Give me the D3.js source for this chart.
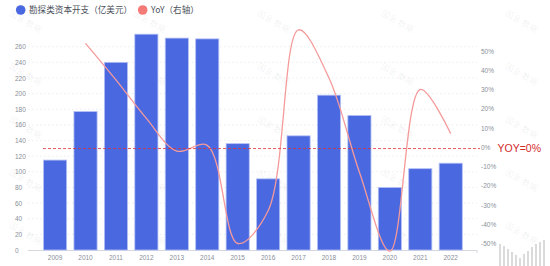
<!DOCTYPE html>
<html>
<head>
<meta charset="utf-8">
<script src="https://d3js.org/d3.v7.min.js"></script>
<style>
  body { margin: 0; background: #fff; }
  svg { display: block; font-family: "Noto Sans CJK SC", "Noto Sans", sans-serif; }
  .tick text { fill: #8a8f99; font-size: 6.5px; }
</style>
</head>
<body>
<svg width="550" height="266"></svg>
<script>
// data
const years = ['2009','2010','2011','2012','2013','2014','2015','2016','2017','2018','2019','2020','2021','2022'];
const capex = [115, 177, 240, 276, 271, 270, 136, 91, 146, 198, 172, 80, 104, 111];
const yoy = [null, 54, 35, 15, -2, 1, -50, -33, 61, 36, -13, -54, 30, 7];
const leftTicks = [0, 20, 40, 60, 80, 100, 120, 140, 160, 180, 200, 220, 240, 260];
const rightTicks = [-50, -40, -30, -20, -10, 0, 10, 20, 30, 40, 50];
// little grey bars of the logo in the corner
const logoBars = [22, 20, 17, 14, 11, 8, 12, 15, 19, 22, 24, 26];

const svg = d3.select('svg');

// watermark
const wm = svg.append('g').attr('fill', '#000').attr('fill-opacity', 0.07)
    .attr('font-size', 8.5);
for (let cx = 24; cx < 540; cx += 124) {
    for (let cy = 24; cy < 250; cy += 53) {
        wm.append('text')
            .attr('transform', `translate(${cx},${cy}) rotate(30)`)
            .attr('text-anchor', 'middle')
            .text('国金 数据');
    }
}

const x = d3.scaleBand().domain(years).range([36.2, 469.6]).padding(0.24);
const y = d3.scaleLinear().domain([0, 260]).range([250, 46.7]);
const yR = d3.scaleLinear().domain([-50, 50]).range([243.5, 51]);

// grid
svg.append('g').selectAll('line').data(leftTicks.slice(1)).join('line')
    .attr('x1', 28).attr('x2', 477)
    .attr('y1', d => y(d)).attr('y2', d => y(d))
    .attr('stroke', '#e6e8ec').attr('stroke-width', 0.8)
    .attr('stroke-dasharray', '1.5,2.5');

// left axis
const yAxisG = svg.append('g').attr('transform', 'translate(26,0)')
    .call(d3.axisLeft(y).tickValues(leftTicks).tickSize(0).tickPadding(0));
yAxisG.select('.domain').remove();
yAxisG.selectAll('text').attr('text-anchor', 'start').attr('x', -11);

// right axis
const rAxisG = svg.append('g').attr('transform', 'translate(481,0)')
    .call(d3.axisRight(yR).tickValues(rightTicks).tickSize(0).tickPadding(0)
        .tickFormat(d => d + '%'));
rAxisG.select('.domain').remove();

// x axis
const xAxisG = svg.append('g').attr('transform', 'translate(0,250)')
    .call(d3.axisBottom(x).tickSize(0).tickPadding(5));
xAxisG.select('.domain').remove();
svg.append('line').attr('x1', 28).attr('x2', 477).attr('y1', 250.5).attr('y2', 250.5)
    .attr('stroke', '#d5d8de').attr('stroke-width', 1);
svg.append('line').attr('x1', 477).attr('x2', 477).attr('y1', 250.5).attr('y2', 253)
    .attr('stroke', '#d5d8de').attr('stroke-width', 1);

// bars
svg.append('g').selectAll('rect').data(capex).join('rect')
    .attr('x', (d, i) => x(years[i]))
    .attr('y', d => y(d))
    .attr('width', x.bandwidth())
    .attr('height', d => y(0) - y(d))
    .attr('fill', '#4a68e0')
    .attr('stroke', '#b3c0f5').attr('stroke-width', 0.8);

// yoy line
const line = d3.line()
    .defined(d => d != null)
    .x((d, i) => x(years[i]) + x.bandwidth() / 2)
    .y(d => yR(d))
    .curve(d3.curveCatmullRom.alpha(0.5));
svg.append('path').datum(yoy)
    .attr('d', line)
    .attr('fill', 'none')
    .attr('stroke', '#f59a9a').attr('stroke-width', 1.3);

// zero line and note
svg.append('line').attr('x1', 43).attr('x2', 480)
    .attr('y1', yR(0) + 1.3).attr('y2', yR(0) + 1.3)
    .attr('stroke', '#e0303a').attr('stroke-width', 0.8)
    .attr('stroke-dasharray', '3,2');
svg.append('text').attr('x', 497.5).attr('y', yR(0) + 4.5)
    .attr('fill', '#d42a2a').attr('font-size', 10.5)
    .attr('font-family', 'Liberation Sans, Arial, sans-serif')
    .text('YOY=0%');

// legend
const lg = svg.append('g').attr('font-size', 8.6).attr('fill', '#4a4f5a');
lg.append('circle').attr('cx', 20.7).attr('cy', 10).attr('r', 4.8).attr('fill', '#4a68e0');
lg.append('text').attr('x', 29).attr('y', 13).text('勘探类资本开支（亿美元）');
lg.append('circle').attr('cx', 142.7).attr('cy', 10).attr('r', 4.8).attr('fill', '#f47a78');
lg.append('text').attr('x', 151).attr('y', 13).text('YoY（右轴）');

// corner logo bars
svg.append('g').selectAll('line').data(logoBars).join('line')
    .attr('x1', (d, i) => 500 + i * 4).attr('x2', (d, i) => 500 + i * 4)
    .attr('y1', 266).attr('y2', d => 266 - d)
    .attr('stroke', '#c8c8c8').attr('stroke-width', 1.3);
</script>
</body>
</html>
